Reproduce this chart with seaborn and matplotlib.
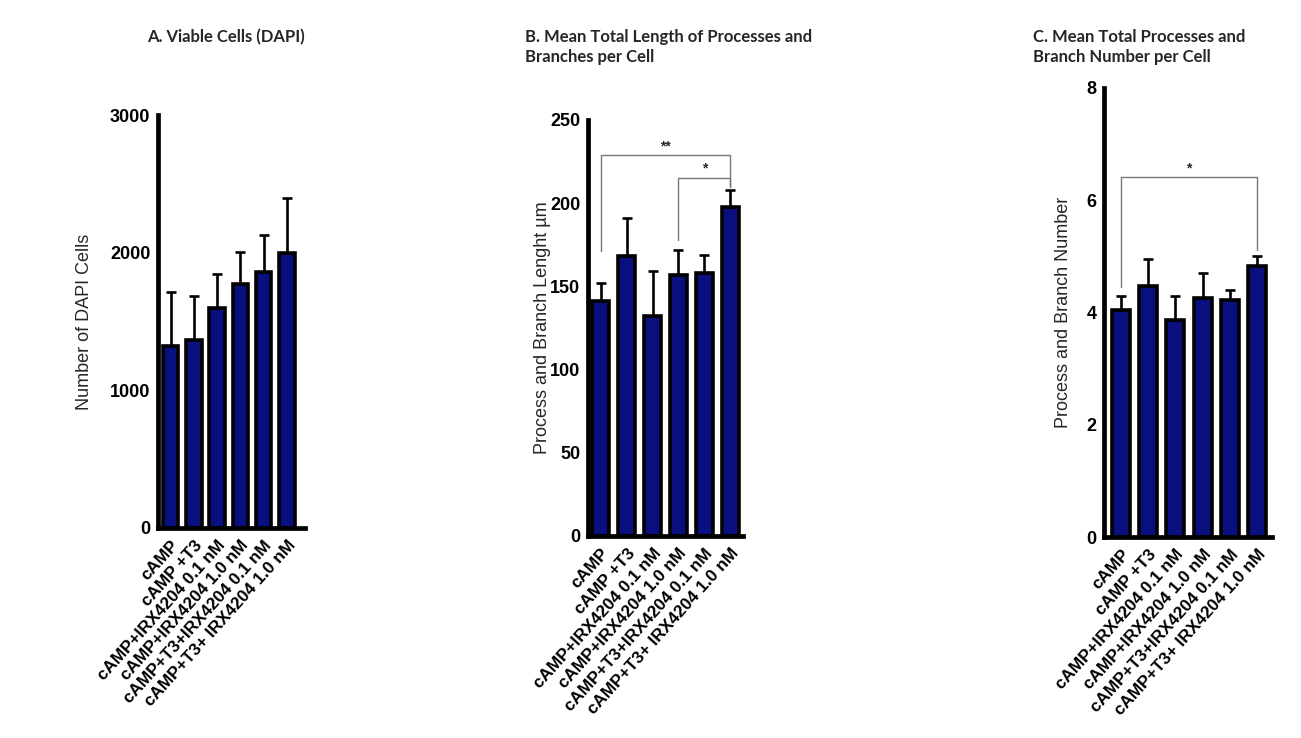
import matplotlib
matplotlib.use("Agg")
import matplotlib.pyplot as plt
import seaborn as sns
import pandas as pd
import numpy as np

sns.set_theme(style="white")
plt.rcParams['font.family'] = ['Liberation Sans', 'DejaVu Sans']

categories = ["cAMP", "cAMP +T3", "cAMP+IRX4204 0.1 nM", "cAMP+IRX4204 1.0 nM",
              "cAMP+T3+IRX4204 0.1 nM", "cAMP+T3+ IRX4204 1.0 nM"]

dapi_mean = [1320, 1365, 1595, 1775, 1860, 1995]
dapi_err = [395, 320, 250, 230, 265, 400]

length_mean = [141, 168, 132, 157, 158, 198]
length_err = [11, 23, 27, 15, 11, 10]

number_mean = [4.05, 4.48, 3.87, 4.25, 4.23, 4.83]
number_err = [0.25, 0.47, 0.43, 0.45, 0.17, 0.17]

titles = ["A. Viable Cells (DAPI)",
          "B. Mean Total Length of Processes and\nBranches per Cell",
          "C. Mean Total Processes and\nBranch Number per Cell"]
ylabels = ["Number of DAPI Cells", "Process and Branch Lenght µm", "Process and Branch Number"]
yticks_list = [[0, 1000, 2000, 3000], [0, 50, 100, 150, 200, 250], [0, 2, 4, 6, 8]]

W, H = 1301, 738
fig = plt.figure(figsize=(W / 100, H / 100), dpi=100)

def rect(l, r, b, t):
    return [l / W, (H - b) / H, (r - l) / W, (b - t) / H]

rects = [rect(158, 305, 528, 115), rect(588, 743, 536, 120), rect(1104, 1272, 537, 88)]
xlims = [(-0.54, 5.77), (-0.49, 5.49), (-0.62, 5.55)]
means = [dapi_mean, length_mean, number_mean]
errs = [dapi_err, length_err, number_err]
bar_color = "#0a0f80"

axes = []
for i in range(3):
    ax = fig.add_axes(rects[i])
    df = pd.DataFrame({"cond": categories, "val": means[i]})
    sns.barplot(data=df, x="cond", y="val", ax=ax, color=bar_color, saturation=1,
                edgecolor="black", linewidth=2.6, width=0.66, errorbar=None)
    n = len(categories)
    ax.errorbar(np.arange(n), means[i], yerr=[np.zeros(n), errs[i]], fmt="none",
                ecolor="black", elinewidth=1.9, capsize=3.4, capthick=1.9, zorder=1)
    ax.set_xlim(*xlims[i])
    ax.set_ylim(0, yticks_list[i][-1])
    ax.set_yticks(yticks_list[i])
    ax.set_yticklabels([str(v) for v in yticks_list[i]], fontweight="bold", fontsize=13)
    ax.set_xticks(np.arange(n))
    ax.set_xticklabels(categories, rotation=48, ha="right", rotation_mode="anchor",
                       fontweight="bold", fontsize=12.3)
    ax.set_xlabel("")
    ax.set_ylabel(ylabels[i], fontsize=13)
    for s in ["top", "right"]:
        ax.spines[s].set_visible(False)
    for s in ["left", "bottom"]:
        ax.spines[s].set_linewidth(3.4)
        ax.spines[s].set_color("black")
    ax.tick_params(axis="y", direction="out", length=4.5, width=2.6, pad=1, colors="black")
    ax.tick_params(axis="x", direction="out", length=4, width=3.8, pad=3, colors="black")
    ax.set_facecolor("white")
    axes.append(ax)

axes[0].yaxis.set_label_coords(-0.44, 0.5)
axes[1].yaxis.set_label_coords(-0.24, 0.5)
axes[2].yaxis.set_label_coords(-0.19, 0.5)

# significance brackets
def bracket(ax, x1, x2, y, y1, y2, text, ty):
    ax.plot([x1, x1, x2, x2], [y1, y, y, y2], color="#777777", lw=1.0, clip_on=False)
    ax.text((x1 + x2) / 2, ty, text, ha="center", va="center", fontsize=10, fontweight="bold")

bracket(axes[1], 0, 5, 229, 171, 210, "**", 234)
bracket(axes[1], 3, 5, 215, 178, 210, "*", 221)
bracket(axes[2], 0, 5, 6.42, 4.45, 5.12, "*", 6.56)

title_kw = dict(fontsize=12, fontweight="bold", family=["Lato", "DejaVu Sans"], va="top")
fig.text(226 / W, 1 - 29 / H, titles[0], ha="center", **title_kw)
fig.text(525 / W, 1 - 29 / H, titles[1], ha="left", linespacing=1.3, **title_kw)
fig.text(1033 / W, 1 - 29 / H, titles[2], ha="left", linespacing=1.3, **title_kw)

fig.savefig("out.png", dpi=100, facecolor="white")
